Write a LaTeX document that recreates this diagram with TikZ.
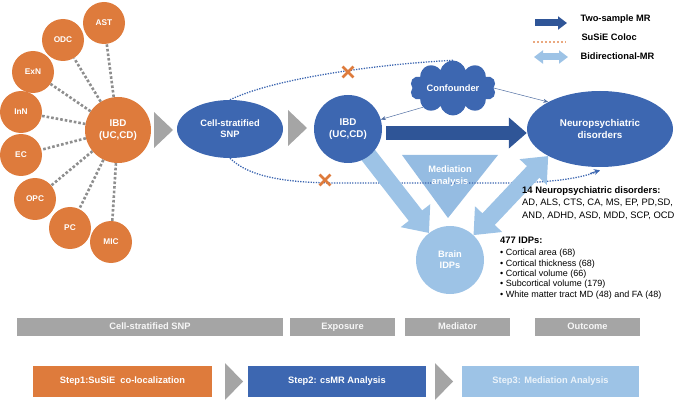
\documentclass[tikz,border=0pt]{standalone}
\usepackage{fontspec}
\setmainfont{Liberation Sans}
\usetikzlibrary{arrows.meta,shapes.symbols,shapes.geometric,shapes.misc}
\definecolor{org}{HTML}{DE7B3C}
\definecolor{dblue}{HTML}{3D67B1}
\definecolor{ablue}{HTML}{2F5597}
\definecolor{lblue}{HTML}{9DC3E6}
\definecolor{gbar}{HTML}{A5A5A5}
\definecolor{dotg}{HTML}{8E8E8E}
\pgfdeclarelayer{bg}
\pgfsetlayers{bg,main}
\begin{document}
\begin{tikzpicture}[x=1pt,y=-1pt,
  every node/.style={font=\bfseries\fontsize{9.3}{11}\selectfont},
  cell/.style={circle, fill=org, text=white, minimum size=42pt, inner sep=0pt, font=\bfseries\fontsize{8.3}{10}\selectfont},
  coloc/.style={draw=dotg, line width=2.6pt, dash pattern=on 2.6pt off 2pt},
  bluedot/.style={draw=dblue, line width=1.3pt, dash pattern=on 1.3pt off 1.3pt},
  bar/.style={fill=gbar, text=white!94!gray, minimum height=18pt, inner sep=0pt, text height=6.8pt, text depth=2pt},
  stepbox/.style={minimum height=31pt, inner sep=0pt, text height=6.8pt, text depth=2pt},
  chev/.style={fill=gbar},
  xmk/.style={cross out, draw=org, line width=2.8pt, minimum size=8pt, inner sep=0pt},
  thin/.style={draw=dblue!70!gray, line width=0.5pt, -{Stealth[length=5pt,width=4pt]}},
  legtext/.style={anchor=west, text=black}
]
\useasboundingbox (0,0) rectangle (678,401);

% ---------- left: cell types ----------
\node[cell, minimum size=66pt, font=\bfseries\fontsize{9.8}{12}\selectfont, align=center] (ibdo) at (118,130) {IBD\\(UC,CD)};
\node[cell] (ast) at (104,23) {AST};
\node[cell] (odc) at (63,40) {ODC};
\node[cell] (exn) at (33,72) {ExN};
\node[cell] (inn) at (21,112) {InN};
\node[cell] (ec)  at (21,155) {EC};
\node[cell] (opc) at (35,199) {OPC};
\node[cell] (pc)  at (70,228) {PC};
\node[cell] (mic) at (111,242) {MIC};
\foreach \c in {ast,odc,exn,inn,ec,opc,pc,mic}
  \draw[coloc] (ibdo) -- (\c);

% chevrons
\fill[chev] (154,112) -- (173,130) -- (154,148) -- cycle;
\fill[chev] (288,110) -- (307,128) -- (288,146) -- cycle;

% ---------- main nodes ----------
\node[ellipse, fill=dblue, text=white, minimum width=106pt, minimum height=58pt, inner sep=0pt, align=center] (snp) at (230,129) {Cell-stratified\\SNP};
\node[circle, fill=dblue, text=white, minimum size=68pt, inner sep=0pt, align=center, font=\bfseries\fontsize{9.8}{12}\selectfont] (ibd) at (348,129) {IBD\\(UC,CD)};
\node[ellipse, fill=dblue, text=white, minimum width=146pt, minimum height=76pt, inner sep=0pt, align=center, font=\bfseries\fontsize{9.8}{12}\selectfont] (neuro) at (600,129) {Neuropsychiatric\\disorders};
\node[circle, fill=lblue, text=white, minimum size=68pt, inner sep=0pt, align=center] (brain) at (450,260) {Brain\\IDPs};
\node[cloud, cloud puffs=10, aspect=1.9, fill=dblue, text=white, minimum width=86pt, minimum height=46pt, inner sep=0pt] (conf) at (453,88) {Confounder};

\begin{pgfonlayer}{bg}
  % mediation triangle
  \fill[lblue!92!dblue] (402,155) -- (498,155) -- (448,218) -- cycle;
  % dotted arcs
  \draw[bluedot] (snp.north) .. controls (275,78) and (380,64) .. (conf.north);
  \draw[bluedot] (snp.south) .. controls (250,178) and (290,183) .. (340,183) -- (505,183)
     .. controls (550,183) and (585,178) .. ([yshift=-3pt]neuro.south);
  \draw[dblue, line width=1.1pt, -{Stealth[length=6pt,width=6pt]}] (590,173.5) -- ([yshift=-3pt]neuro.south);
  % light blue arrows
  \draw[lblue, line width=17pt, -{Triangle[width=36pt,length=22pt]}] (ibd.center) -- (brain);
  \draw[lblue, line width=17pt, {Triangle[width=36pt,length=22pt]}-{Triangle[width=36pt,length=22pt]}] (brain) -- (neuro.south west);
\end{pgfonlayer}

\node[text=white, align=center, font=\bfseries\fontsize{9.3}{11.5}\selectfont] (med) at (450,176) {Mediation\\analysis};

% X marks
\node[xmk] (x1) at (348,72) {};
\node[xmk] (x2) at (325,180) {};

% thick dark arrow
\draw[ablue, line width=14pt, -{Triangle[width=30pt,length=18pt]}] ([xshift=4pt,yshift=-4pt]ibd.east) -- ([yshift=-4pt]neuro.west);

% confounder arrows
\draw[thin] (conf.south west) -- (ibd);
\draw[thin] (conf.east) -- (neuro.north west);

% ---------- legend ----------
\coordinate (l1a) at (535,23); \coordinate (l1b) at (567,23);
\coordinate (l2a) at (533,42); \coordinate (l2b) at (566,42);
\coordinate (l3a) at (534,57); \coordinate (l3b) at (568,57);
\draw[ablue, line width=7pt, -{Triangle[width=13pt,length=9pt]}] (l1a) -- (l1b);
\draw[org!65, line width=2pt, dash pattern=on 2pt off 2pt] (l2a) -- (l2b);
\draw[lblue, line width=7pt, {Triangle[width=13pt,length=9pt]}-{Triangle[width=13pt,length=9pt]}] (l3a) -- (l3b);
\node[legtext] (t1) at (577,19) {Two-sample MR};
\node[legtext] (t2) at (578,37) {SuSiE Coloc};
\node[legtext] (t3) at (577,56) {Bidirectional-MR};

% ---------- text blocks ----------
\node[anchor=north west, align=left, inner sep=0pt, font=\fontsize{9.4}{12.8}\selectfont] (nd) at (522,186)
  {\textbf{14 Neuropsychiatric disorders:}\\AD, ALS, CTS, CA, MS, EP, PD,SD,\\AND, ADHD, ASD, MDD, SCP, OCD};
\node[anchor=north west, align=left, inner sep=0pt, font=\fontsize{9}{10.3}\selectfont] (idp) at (500,237)
  {\textbf{\fontsize{9.4}{10.3}\selectfont 477 IDPs:}\\[2pt]
   • Cortical area (68)\\
   • Cortical thickness (68)\\
   • Cortical volume (66)\\
   • Subcortical volume (179)\\
   • White matter tract MD (48) and FA (48)};

% ---------- bars ----------
\node[bar, minimum width=266pt] (b1) at (150,327) {Cell-stratified SNP};
\node[bar, minimum width=105pt] (b2) at (342.5,327) {Exposure};
\node[bar, minimum width=105pt] (b3) at (457.5,327) {Mediator};
\node[bar, minimum width=105pt] (b4) at (587.5,327) {Outcome};

% ---------- steps ----------
\node[stepbox, fill=org, text=white, minimum width=179pt] (s1) at (122.5,381.5) {Step1:SuSiE\ \ co-localization};
\node[stepbox, fill=dblue, text=white, minimum width=178pt] (s2) at (337,381.5) {Step2: csMR Analysis};
\node[stepbox, fill=lblue, text=white!80!lblue, minimum width=177pt] (s3) at (550.5,381.5) {Step3: Mediation Analysis};
\fill[chev] (225,363) -- (243,381.5) -- (225,400) -- cycle;
\fill[chev] (435,363) -- (453,381.5) -- (435,400) -- cycle;
\end{tikzpicture}
\end{document}
